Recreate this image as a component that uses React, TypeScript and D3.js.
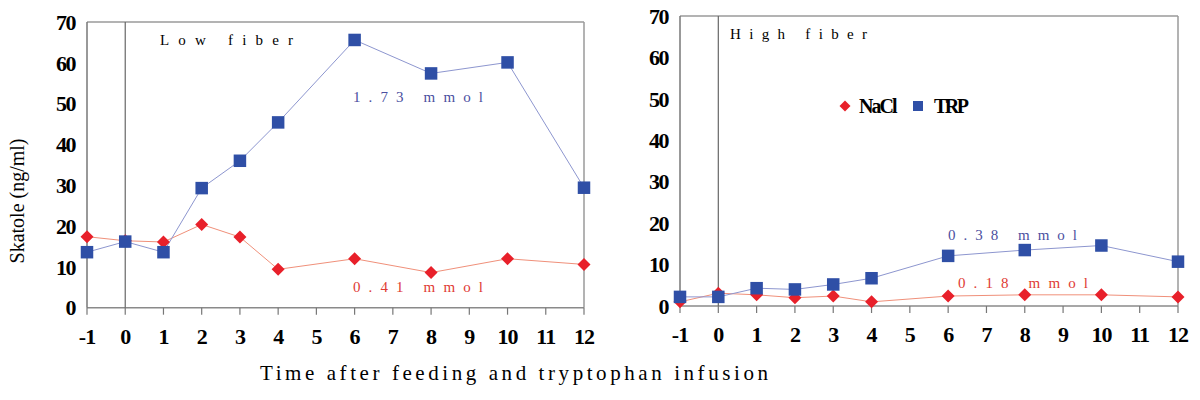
import React from "react";
import * as d3 from "d3";

const times = [-1, 0, 1, 2, 3, 4, 6, 8, 10, 12];
const xTicks = [-1, 0, 1, 2, 3, 4, 5, 6, 7, 8, 9, 10, 11, 12];
const yTicks = [0, 10, 20, 30, 40, 50, 60, 70];

const lowTRP = [13.6, 16.2, 13.6, 29.3, 36.0, 45.4, 65.6, 57.4, 60.1, 29.4];
const lowNaCl = [17.4, 16.4, 16.1, 20.4, 17.3, 9.4, 12.0, 8.6, 12.0, 10.6];
const highTRP = [2.2, 2.2, 4.3, 4.0, 5.2, 6.7, 12.1, 13.5, 14.6, 10.7];
const highNaCl = [1.0, 3.1, 2.7, 2.0, 2.4, 1.0, 2.4, 2.7, 2.7, 2.2];

const BLUE = "#2f4fa6";
const BLUE_LINE = "#8d96cf";
const BLUE_TEXT = "#4b4fa0";
const RED = "#e8202a";
const RED_LINE = "#f0907a";
const RED_TEXT = "#e03a34";
const SERIF = "Liberation Serif";

type Ann = { text: string; x: number; y: number; len: number; color: string };

function Panel(props: {
  left: number; right: number; top: number; bottom: number;
  trp: number[]; nacl: number[]; title: string; titleX: number; titleLen: number;
  anns: Ann[]; legend?: boolean;
}) {
  const { left, right, top, bottom, trp, nacl } = props;
  const x = d3.scaleLinear().domain([-1, 12]).range([left, right]);
  const y = d3.scaleLinear().domain([0, 70]).range([bottom, top]);
  const line = d3.line<number>().x((_, i) => x(times[i])).y((d) => y(d));
  const diamond = (cx: number, cy: number, r = 6.5) =>
    `M${cx},${cy - r}L${cx + r},${cy}L${cx},${cy + r}L${cx - r},${cy}Z`;
  const sq = 12.5;
  return (
    <g>
      <line x1={left} x2={right} y1={top} y2={top} stroke="#9a9a9a" strokeWidth={1.5} />
      <line x1={right} x2={right} y1={top} y2={bottom} stroke="#9a9a9a" strokeWidth={1.5} />
      <line x1={left} x2={right} y1={bottom} y2={bottom} stroke="#8a8a8a" strokeWidth={1.5} />
      <line x1={left} x2={left} y1={top} y2={bottom} stroke="#777" strokeWidth={1.5} />
      <line x1={x(0)} x2={x(0)} y1={top} y2={bottom} stroke="#666" strokeWidth={1.2} />
      {xTicks.map((t) => (
        <g key={t}>
          <line x1={x(t)} x2={x(t)} y1={bottom} y2={bottom + 7} stroke="#777" strokeWidth={1.2} />
          <text x={x(t)} y={bottom + 36} textAnchor="middle" fontFamily={SERIF} fontWeight="bold"
            fontSize={22} letterSpacing={-1}>{t}</text>
        </g>
      ))}
      {yTicks.map((t) => (
        <text key={t} x={left - 12} y={y(t)} dy="0.35em" textAnchor="end" fontFamily={SERIF}
          fontWeight="bold" fontSize={22} letterSpacing={-1.5}>{t}</text>
      ))}
      <text x={props.titleX} y={top + 23} fontFamily={SERIF} fontSize={15}
        textLength={props.titleLen} lengthAdjust="spacing">{props.title}</text>
      {props.anns.map((a, i) => (
        <text key={i} x={a.x} y={a.y} dy="0.35em" fontFamily={SERIF} fontSize={15} fill={a.color}
          textLength={a.len} lengthAdjust="spacing">{a.text}</text>
      ))}
      <path d={line(nacl) || ""} fill="none" stroke={RED_LINE} strokeWidth={1} />
      <path d={line(trp) || ""} fill="none" stroke={BLUE_LINE} strokeWidth={1} />
      {nacl.map((v, i) => (
        <path key={"n" + i} d={diamond(x(times[i]), y(v))} fill={RED} />
      ))}
      {trp.map((v, i) => (
        <rect key={"t" + i} x={x(times[i]) - sq / 2} y={y(v) - sq / 2} width={sq} height={sq} fill={BLUE} />
      ))}
      {props.legend && (
        <g>
          <path d={diamond(845, 106, 5.5)} fill={RED} />
          <text x={859} y={106} dy="0.35em" fontFamily={SERIF} fontWeight="bold" fontSize={20}
            letterSpacing={-2}>NaCl</text>
          <rect x={913} y={101} width={10} height={10} fill={BLUE} />
          <text x={934} y={106} dy="0.35em" fontFamily={SERIF} fontWeight="bold" fontSize={20}
            letterSpacing={-2.5}>TRP</text>
        </g>
      )}
    </g>
  );
}

export default function App() {
  return (
    <svg width={1200} height={400} style={{ position: "absolute", left: 0, top: 0, background: "#fff" }}>
      <Panel left={87} right={584} top={22} bottom={307.7} trp={lowTRP} nacl={lowNaCl}
        title="Low fiber" titleX={160} titleLen={133}
        anns={[
          { text: "1.73 mmol", x: 353, y: 97, len: 130, color: BLUE_TEXT },
          { text: "0.41 mmol", x: 353, y: 287, len: 130, color: RED_TEXT },
        ]} />
      <Panel left={680} right={1178} top={16} bottom={306} trp={highTRP} nacl={highNaCl}
        title="High fiber" titleX={730} titleLen={137} legend
        anns={[
          { text: "0.38 mmol", x: 948, y: 235, len: 129, color: BLUE_TEXT },
          { text: "0.18 mmol", x: 958, y: 283, len: 130, color: RED_TEXT },
        ]} />
      <text x={0} y={0} transform="translate(24,201) rotate(-90)" textAnchor="middle" fontFamily={SERIF}
        fontSize={20}>Skatole (ng/ml)</text>
      <text x={260} y={380} fontFamily={SERIF} fontSize={21} textLength={508}
        lengthAdjust="spacing">Time after feeding and tryptophan infusion</text>
    </svg>
  );
}
